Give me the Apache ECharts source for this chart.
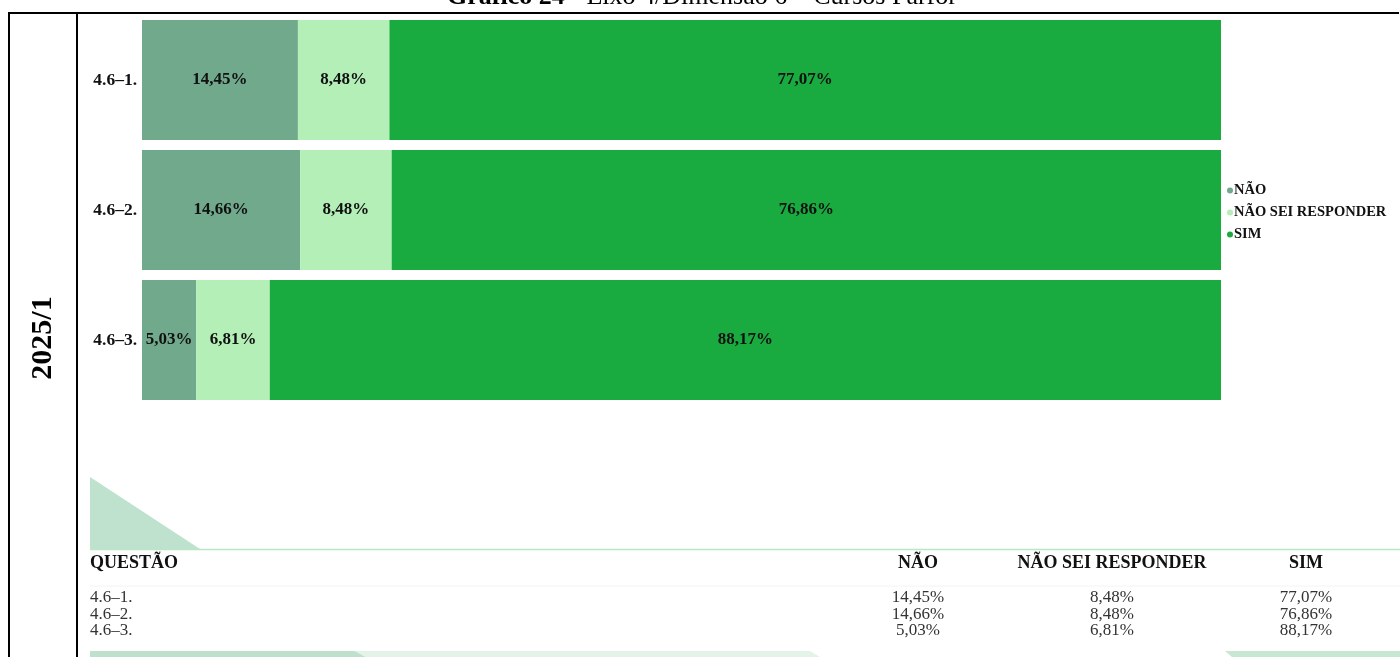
<!DOCTYPE html>
<html>
<head>
<meta charset="utf-8">
<script src="https://cdn.jsdelivr.net/npm/echarts@6/dist/echarts.min.js"></script>
<style>
  html, body { margin: 0; padding: 0; background: #fff; }
  #chart { width: 1400px; height: 657px; }
</style>
</head>
<body>
<div id="chart"></div>
<script>
var questoes = ['4.6\u20131.', '4.6\u20132.', '4.6\u20133.'];
var respostas = ['NÃO', 'NÃO SEI RESPONDER', 'SIM'];
var nao = [14.45, 14.66, 5.03];
var naoSei = [8.48, 8.48, 6.81];
var sim = [77.07, 76.86, 88.17];
var cores = ['#71a98c', '#b3efb6', '#1aab40'];

var serif = '"Liberation Serif", "Times New Roman", serif';

function fmt(v) {
    return v.toFixed(2).replace('.', ',') + '%';
}

var dom = document.getElementById('chart');
var myChart = echarts.init(dom);

var valores = [nao, naoSei, sim];
var series = [];
for (var i = 0; i < respostas.length; i++) {
    series.push({
        name: respostas[i],
        type: 'bar',
        stack: 'total',
        barWidth: 120,
        data: valores[i],
        itemStyle: { color: cores[i] },
        label: {
            show: true,
            position: 'inside',
            color: '#111',
            fontFamily: serif,
            fontWeight: 'bold',
            fontSize: 17,
            formatter: function (p) { return fmt(p.value); }
        }
    });
}

// tabela em baixo, montada a partir dos mesmos arrays
var graficos = [
    // moldura
    { type: 'line', shape: { x1: 8, y1: 13, x2: 1399, y2: 13 }, style: { stroke: '#000', lineWidth: 2 } },
    { type: 'line', shape: { x1: 9, y1: 13, x2: 9, y2: 657 }, style: { stroke: '#000', lineWidth: 2 } },
    { type: 'line', shape: { x1: 77, y1: 13, x2: 77, y2: 657 }, style: { stroke: '#000', lineWidth: 2 } },
    {
        type: 'text', x: 702, y: 10,
        style: {
            text: '{b|Gráfico 24} - Eixo 4/Dimensão 6 \u2013 Cursos Parfor',
            align: 'center', verticalAlign: 'bottom',
            font: '26px ' + serif, fill: '#000',
            rich: { b: { fontWeight: 'bold', fontSize: 26, fontFamily: serif } }
        }
    },
    {
        type: 'text', x: 43, y: 338, rotation: Math.PI / 2,
        style: {
            text: '2025/1', align: 'center', verticalAlign: 'middle',
            font: 'bold 30px ' + serif, fill: '#000'
        }
    },
    // enfeites verdes
    { type: 'polygon', shape: { points: [[90, 477], [90, 549], [200, 549]] }, style: { fill: '#bfe2cf' } },
    { type: 'line', shape: { x1: 90, y1: 549.5, x2: 1400, y2: 549.5 }, style: { stroke: '#b9e6c3', lineWidth: 1.5 } },
    { type: 'line', shape: { x1: 90, y1: 586, x2: 1400, y2: 586 }, style: { stroke: '#f2f4f2', lineWidth: 1 } },
    { type: 'polygon', shape: { points: [[90, 651], [355, 651], [366, 657], [90, 657]] }, style: { fill: '#bfe0cc' } },
    { type: 'polygon', shape: { points: [[355, 651], [810, 651], [820, 657], [366, 657]] }, style: { fill: '#e3f3e8' } },
    { type: 'polygon', shape: { points: [[1225, 651], [1400, 651], [1400, 657], [1232, 657]] }, style: { fill: '#c8e7d3' } },
    {
        type: 'text', x: 90, y: 563,
        style: { text: 'QUESTÃO', align: 'left', verticalAlign: 'middle', font: 'bold 18px ' + serif, fill: '#111' }
    }
];

var colX = [918, 1112, 1306];
var linhaY = [598, 614.5, 631];
for (var c = 0; c < respostas.length; c++) {
    graficos.push({
        type: 'text', x: colX[c], y: 563,
        style: { text: respostas[c], align: 'center', verticalAlign: 'middle', font: 'bold 18px ' + serif, fill: '#111' }
    });
}
for (var r = 0; r < questoes.length; r++) {
    graficos.push({
        type: 'text', x: 90, y: linhaY[r],
        style: { text: questoes[r], align: 'left', verticalAlign: 'middle', font: '17px ' + serif, fill: '#333' }
    });
    for (var c = 0; c < respostas.length; c++) {
        graficos.push({
            type: 'text', x: colX[c], y: linhaY[r],
            style: { text: fmt(valores[c][r]), align: 'center', verticalAlign: 'middle', font: '17px ' + serif, fill: '#333' }
        });
    }
}

var option = {
    animation: false,
    backgroundColor: '#fff',
    legend: {
        data: respostas,
        orient: 'vertical',
        left: 1222,
        top: 178,
        icon: 'circle',
        itemWidth: 6,
        itemHeight: 6,
        itemGap: 7,
        textStyle: { fontFamily: serif, fontWeight: 'bold', fontSize: 14.5, color: '#111', padding: [0, 0, 0, -4] }
    },
    grid: {
        left: 142,
        right: 179,
        top: 15,
        height: 390,
        containLabel: false
    },
    xAxis: {
        type: 'value',
        min: 0,
        max: 100,
        show: false
    },
    yAxis: {
        type: 'category',
        inverse: true,
        data: questoes,
        axisLine: { show: false },
        axisTick: { show: false },
        axisLabel: {
            margin: 5,
            color: '#111',
            fontFamily: serif,
            fontWeight: 'bold',
            fontSize: 17.5
        }
    },
    series: series,
    graphic: graficos
};

if (option && typeof option === 'object') {
    myChart.setOption(option, true);
}
</script>
</body>
</html>
